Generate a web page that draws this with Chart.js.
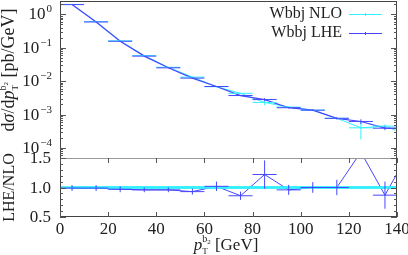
<!DOCTYPE html>
<html lang="en">
<head>
<meta charset="UTF-8">
<title>Wbbj pT b2</title>
<script src="https://cdn.jsdelivr.net/npm/chart.js"></script>
<style>
  body { margin: 0; background: #fff; }
  #wrap { position: relative; width: 408px; height: 255px; }
  canvas { position: absolute; left: 0; }
  #top { top: 0; }
  #bot { top: 140px; }
</style>
</head>
<body>
<div id="wrap">
  <canvas id="top" width="408" height="158"></canvas>
  <canvas id="bot" width="408" height="115"></canvas>
</div>
<script>
// bins of 10 GeV, last one lies past the axis end
const binCenters = [5, 15, 25, 35, 45, 55, 65, 75, 85, 95, 105, 115, 125, 135, 145];
const binHalf = 5;
const nloValues = [1.97, 0.60, 0.161, 0.058, 0.026, 0.0132, 0.0068, 0.0043, 0.0023, 0.00167, 0.00135, 0.00077, 0.00040, 0.00045, 0.00024];
const nloErrors = [0.02, 0.006, 0.0016, 0.0006, 0.0003, 0.0002, 0.0001, 0.0001, 0.0004, 0.00008, 0.00007, 0.00005, 0.00022, 0.00006, 0.00005];
const lheValues = [1.95, 0.59, 0.156, 0.056, 0.025, 0.0123, 0.0069, 0.0037, 0.0028, 0.0016, 0.00135, 0.00077, 0.00062, 0.00039, 0.00038];
const lheErrors = [0.03, 0.01, 0.003, 0.001, 0.0005, 0.0003, 0.0002, 0.0001, 0.0003, 0.00008, 0.00008, 0.00006, 0.0001, 0.00005, 0.00005];
const ratioNlo = [1, 1, 1, 1, 1, 1, 1, 1, 1, 1, 1, 1, 1, 1, 1];
const ratioLhe = [0.99, 0.99, 0.97, 0.96, 0.96, 0.93, 1.02, 0.86, 1.22, 0.96, 1.0, 1.0, 1.6, 0.87, 1.6];
const ratioLheErr = [0.05, 0.05, 0.05, 0.04, 0.04, 0.05, 0.08, 0.07, 0.24, 0.085, 0.09, 0.13, 0.08, 0.23, 0.3];
const xTicks = [0, 20, 40, 60, 80, 100, 120, 140];
const logDecades = [-4, -3, -2, -1, 0];
const ratioTicks = [0.5, 1.0, 1.5];

const FONT = '"Liberation Serif", "DejaVu Serif", serif';
const NLO_COLOR = '#33f0ff';
const LHE_COLOR = '#4646ff';
const TEXT = '#222';

function setFont(ctx, p) {
  ctx.font = (p.it ? 'italic ' : '') + p.size + 'px ' + FONT;
}

// draws a run of text pieces (with sub/superscripts) centred on x,y
function drawRich(ctx, parts, x, y, rot) {
  ctx.save();
  ctx.translate(x, y);
  if (rot) ctx.rotate(-Math.PI / 2);
  const widths = parts.map(p => { setFont(ctx, p); return ctx.measureText(p.t).width; });
  let total = 0;
  parts.forEach((p, i) => { if (!p.hold) total += widths[i]; });
  let cx = -total / 2;
  ctx.fillStyle = TEXT;
  ctx.textAlign = 'left';
  ctx.textBaseline = 'alphabetic';
  parts.forEach((p, i) => {
    setFont(ctx, p);
    ctx.fillText(p.t, cx, p.dy || 0);
    if (!p.hold) cx += widths[i];
  });
  ctx.restore();
}

function line(ctx, x0, y0, x1, y1) {
  ctx.beginPath();
  ctx.moveTo(x0, y0);
  ctx.lineTo(x1, y1);
  ctx.stroke();
}

// x and y error bars for every dataset that carries errY
// (datasets are listed top-most first, so paint them back to front)
function drawErrorBars(chart) {
  const ctx = chart.ctx, a = chart.chartArea;
  const xs = chart.scales.x, ys = chart.scales.y;
  ctx.save();
  ctx.beginPath();
  ctx.rect(a.left, a.top, a.right - a.left, a.bottom - a.top);
  ctx.clip();
  chart.data.datasets.slice().reverse().forEach(ds => {
    if (!ds.errY) return;
    ctx.strokeStyle = ds.borderColor;
    ctx.lineWidth = ds.barWidth || 1;
    ds.data.forEach((pt, i) => {
      const py = ys.getPixelForValue(pt.y);
      line(ctx, xs.getPixelForValue(pt.x - binHalf), py, xs.getPixelForValue(pt.x + binHalf), py);
      const lo = Math.max(pt.y - ds.errY[i], ys.min);
      line(ctx, xs.getPixelForValue(pt.x), ys.getPixelForValue(lo), xs.getPixelForValue(pt.x), ys.getPixelForValue(pt.y + ds.errY[i]));
    });
  });
  ctx.restore();
}

function yTicksInward(ctx, a, ys, values, len) {
  values.forEach(v => {
    const py = Math.round(ys.getPixelForValue(v)) + 0.5;
    line(ctx, a.left, py, a.left + len, py);
    line(ctx, a.right, py, a.right - len, py);
  });
}

const decorTop = {
  id: 'decorTop',
  afterDatasetsDraw(chart) {
    drawErrorBars(chart);
    const ctx = chart.ctx, a = chart.chartArea, ys = chart.scales.y;
    ctx.save();
    // frame
    ctx.lineWidth = 1;
    ctx.strokeStyle = '#444';
    line(ctx, a.left + 0.5, a.top, a.left + 0.5, a.bottom);
    line(ctx, a.right - 0.5, a.top, a.right - 0.5, a.bottom);
    line(ctx, a.left, a.top + 0.5, a.right, a.top + 0.5);
    // ticks
    ctx.strokeStyle = '#555';
    yTicksInward(ctx, a, ys, logDecades.map(d => Math.pow(10, d)), 6);
    const minor = [];
    for (let d = -5; d <= 0; d++) for (let m = 2; m <= 9; m++) {
      const v = m * Math.pow(10, d);
      if (v > ys.min && v < ys.max) minor.push(v);
    }
    yTicksInward(ctx, a, ys, minor, 3);
    // tick labels 10^n
    ctx.fillStyle = TEXT;
    ctx.textBaseline = 'alphabetic';
    ctx.textAlign = 'left';
    logDecades.forEach(d => {
      const py = ys.getPixelForValue(Math.pow(10, d));
      const exp = d === 0 ? '0' : '\u2212' + Math.abs(d);
      ctx.font = '17px ' + FONT;
      const wb = ctx.measureText('10').width;
      ctx.font = '11px ' + FONT;
      const we = ctx.measureText(exp).width;
      const x0 = 51 - wb - we;
      ctx.font = '17px ' + FONT;
      ctx.fillText('10', x0, py + 5);
      ctx.font = '11px ' + FONT;
      ctx.fillText(exp, x0 + wb + 1, py - 2);
    });
    // y title
    drawRich(ctx, [
      { t: 'd', size: 18 }, { t: '\u03c3', size: 18, it: true }, { t: '/d', size: 18 },
      { t: 'p', size: 18, it: true }, { t: 'T', size: 9, dy: 4, hold: true },
      { t: 'b', size: 10, dy: -8 }, { t: '2', size: 7, dy: -6 },
      { t: ' [pb/GeV]', size: 18 }
    ], 14, 70, true);
    // legend
    const entries = [['Wbbj NLO', NLO_COLOR, 18], ['Wbbj LHE', LHE_COLOR, 37]];
    entries.forEach(([label, color, base]) => {
      ctx.font = '16px ' + FONT;
      ctx.textAlign = 'right';
      ctx.fillStyle = TEXT;
      ctx.fillText(label, 342, base);
      ctx.strokeStyle = color;
      ctx.lineWidth = 1;
      line(ctx, 349, base - 3.5, 382, base - 3.5);
      line(ctx, 365.5, base - 5, 365.5, base - 2);
    });
    ctx.restore();
  }
};

const decorBot = {
  id: 'decorBot',
  afterDatasetsDraw(chart) {
    drawErrorBars(chart);
    const ctx = chart.ctx, a = chart.chartArea, ys = chart.scales.y, xs = chart.scales.x;
    ctx.save();
    ctx.lineWidth = 1;
    ctx.strokeStyle = '#444';
    line(ctx, a.left + 0.5, a.top, a.left + 0.5, a.bottom);
    line(ctx, a.right - 0.5, a.top, a.right - 0.5, a.bottom);
    line(ctx, a.left, a.bottom - 0.5, a.right, a.bottom - 0.5);
    ctx.strokeStyle = '#999';
    line(ctx, a.left, a.top + 0.5, a.right, a.top + 0.5);
    ctx.strokeStyle = '#555';
    yTicksInward(ctx, a, ys, ratioTicks, 6);
    const minor = [];
    for (let v = 0.6; v < 1.45; v += 0.1) if (Math.abs(v - 1) > 0.01) minor.push(v);
    yTicksInward(ctx, a, ys, minor, 3);
    xTicks.forEach(v => {
      const px = Math.round(xs.getPixelForValue(v)) + 0.5;
      line(ctx, px, a.top, px, a.top + 5);
      line(ctx, px, a.bottom, px, a.bottom - 5);
    });
    ctx.fillStyle = TEXT;
    ctx.font = '17px ' + FONT;
    ctx.textBaseline = 'alphabetic';
    ctx.textAlign = 'right';
    ratioTicks.forEach(v => {
      ctx.fillText(v.toFixed(1), 51, ys.getPixelForValue(v) + 5);
    });
    ctx.textAlign = 'center';
    xTicks.forEach(v => {
      ctx.fillText(String(v), xs.getPixelForValue(v), a.bottom + 17);
    });
    drawRich(ctx, [
      { t: 'p', size: 17, it: true }, { t: 'T', size: 9, dy: 4, hold: true },
      { t: 'b', size: 10, dy: -8 }, { t: '2', size: 7, dy: -6 },
      { t: ' [GeV]', size: 17 }
    ], 226, a.bottom + 33, false);
    drawRich(ctx, [{ t: 'LHE/NLO', size: 16 }], 14, ys.getPixelForValue(1.0), true);
    ctx.restore();
  }
};

function xyPoints(values) {
  return binCenters.map((x, i) => ({ x: x, y: values[i] }));
}

function makeScales(yOpts) {
  return {
    x: {
      type: 'linear', min: 0, max: 140,
      ticks: { display: false }, grid: { display: false, drawTicks: false }, border: { display: false },
      afterFit: s => { s.height = yOpts.xHeight; }
    },
    y: Object.assign({
      ticks: { display: false }, grid: { display: false, drawTicks: false }, border: { display: false },
      afterFit: s => { s.width = 60; }
    }, yOpts.scale)
  };
}

// Chart.js paints the first dataset last, so LHE goes first to sit on top
new Chart(document.getElementById('top'), {
  type: 'line',
  data: {
    datasets: [
      { label: 'Wbbj LHE', data: xyPoints(lheValues), errY: lheErrors, borderColor: LHE_COLOR, borderWidth: 1.2, pointRadius: 0 },
      { label: 'Wbbj NLO', data: xyPoints(nloValues), errY: nloErrors, borderColor: NLO_COLOR, borderWidth: 1, pointRadius: 0 }
    ]
  },
  options: {
    responsive: false,
    animation: false,
    layout: { padding: { top: 1, right: 11, left: 0, bottom: 0 } },
    plugins: { legend: { display: false }, tooltip: { enabled: false } },
    scales: makeScales({ xHeight: 0, scale: { type: 'logarithmic', min: 5e-5, max: 2.5 } })
  },
  plugins: [decorTop]
});

new Chart(document.getElementById('bot'), {
  type: 'line',
  data: {
    datasets: [
      { label: 'Wbbj LHE', data: xyPoints(ratioLhe), errY: ratioLheErr, borderColor: LHE_COLOR, borderWidth: 1, pointRadius: 0 },
      { label: 'Wbbj NLO', data: xyPoints(ratioNlo), errY: ratioNlo.map(() => 0.005), borderColor: NLO_COLOR, borderWidth: 2.5, barWidth: 2.5, pointRadius: 0 }
    ]
  },
  options: {
    responsive: false,
    animation: false,
    layout: { padding: { top: 18, right: 11, left: 0, bottom: 0 } },
    plugins: { legend: { display: false }, tooltip: { enabled: false } },
    scales: makeScales({ xHeight: 38, scale: { type: 'linear', min: 0.5, max: 1.5 } })
  },
  plugins: [decorBot]
});
</script>
</body>
</html>
